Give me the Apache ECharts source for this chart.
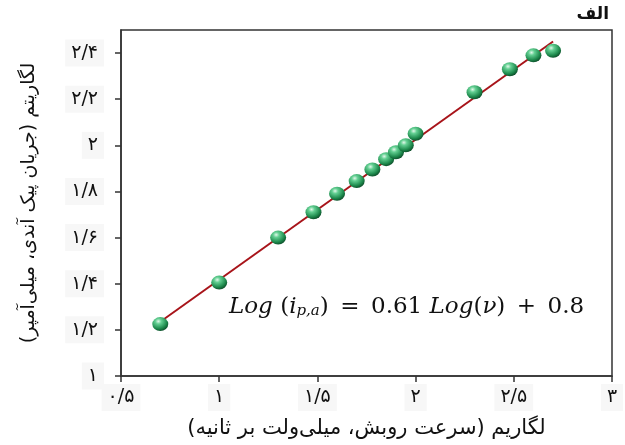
<!DOCTYPE html>
<html>
<head>
<meta charset="utf-8">
<script src="https://cdn.jsdelivr.net/npm/echarts@6/dist/echarts.min.js"></script>
<style>
html, body { margin: 0; padding: 0; background: #fff; }
#chart { width: 625px; height: 445px; }
</style>
</head>
<body>
<div id="chart"></div>
<script>
// log(scan rate) vs log(anodic peak current)
var logRate = [0.70, 1.00, 1.30, 1.48, 1.60, 1.70, 1.78, 1.85, 1.90, 1.95, 2.00, 2.30, 2.48, 2.60, 2.70];
var logCurrent = [1.225, 1.405, 1.60, 1.71, 1.79, 1.845, 1.895, 1.94, 1.97, 2.00, 2.05, 2.23, 2.33, 2.39, 2.41];

// fitted line ends
var fitX = [0.70, 2.70];
var fitY = [1.235, 2.45];

var xTicks = [0.5, 1, 1.5, 2, 2.5, 3];
var yTicks = [1, 1.2, 1.4, 1.6, 1.8, 2, 2.2, 2.4];

var faFont = 'DejaVu Sans';

// persian digits, '/' as decimal mark
function toFa(v) {
    var s = String(Math.round(v * 100) / 100).replace('.', '/');
    return s.replace(/\d/g, function (d) { return '۰۱۲۳۴۵۶۷۸۹'[+d]; });
}

var pts = [];
for (var i = 0; i < logRate.length; i++) {
    pts.push([logRate[i], logCurrent[i]]);
}
var fitPts = [[fitX[0], fitY[0]], [fitX[1], fitY[1]]];

var labelBox = {
    backgroundColor: '#f7f7f7',
    padding: [4, 6, 4, 6]
};

var myChart = echarts.init(document.getElementById('chart'));

var option = {
    backgroundColor: '#fff',
    animation: false,
    grid: {
        left: 121,
        right: 13,
        top: 30,
        bottom: 69,
        show: true,
        borderColor: '#333',
        borderWidth: 1.5,
        outerBoundsMode: 'none'
    },
    title: {
        text: 'الف',
        right: 11,
        top: 1,
        textStyle: { fontFamily: faFont, fontSize: 17, fontWeight: 'bold', color: '#111' }
    },
    xAxis: {
        type: 'value',
        min: 0.5,
        max: 3,
        interval: 0.5,
        name: 'لگاریم (سرعت روبش، میلی\u200cولت بر ثانیه)',
        nameLocation: 'middle',
        nameGap: 42,
        nameTextStyle: { fontFamily: faFont, fontSize: 21, color: '#111' },
        axisLine: { show: true, lineStyle: { color: '#333', width: 1.5 } },
        axisTick: { show: true, length: 6, lineStyle: { color: '#333', width: 1.5 }, customValues: xTicks },
        axisLabel: {
            customValues: xTicks,
            margin: 8,
            fontFamily: faFont,
            fontSize: 19,
            color: '#111',
            backgroundColor: labelBox.backgroundColor,
            padding: labelBox.padding,
            formatter: function (v) { return toFa(v); }
        },
        splitLine: { show: false }
    },
    yAxis: {
        type: 'value',
        min: 1,
        max: 2.5,
        name: 'لگاریتم (جریان پیک آندی، میلی\u200cآمپر)',
        nameLocation: 'middle',
        nameGap: 82,
        nameRotate: 90,
        nameTextStyle: { fontFamily: faFont, fontSize: 19, color: '#111' },
        axisLine: { show: true, lineStyle: { color: '#333', width: 1.5 } },
        axisTick: { show: true, length: 6, lineStyle: { color: '#333', width: 1.5 }, customValues: yTicks },
        axisLabel: {
            customValues: yTicks,
            margin: 17,
            fontFamily: faFont,
            fontSize: 19,
            color: '#111',
            backgroundColor: labelBox.backgroundColor,
            padding: labelBox.padding,
            formatter: function (v) { return toFa(v); }
        },
        splitLine: { show: false }
    },
    graphic: [
        {
            type: 'text',
            left: 229,
            top: 296,
            style: {
                text: '{it|Log }{n|(}{it|i}{sub|p,a}{n|)\u2002=\u20020.61 }{it|Log}{n|(}{it|ν}{n|)\u2002+\u20020.8}',
                rich: {
                    it: { fontFamily: 'DejaVu Serif', fontStyle: 'italic', fontSize: 23, lineHeight: 32, verticalAlign: 'bottom', fill: '#111' },
                    n: { fontFamily: 'DejaVu Serif', fontSize: 23, lineHeight: 32, verticalAlign: 'bottom', fill: '#111' },
                    sub: { fontFamily: 'DejaVu Serif', fontStyle: 'italic', fontSize: 15, lineHeight: 14, verticalAlign: 'bottom', fill: '#111' }
                }
            }
        }
    ],
    series: [
        {
            name: 'fit',
            type: 'line',
            data: fitPts,
            symbol: 'none',
            lineStyle: { color: '#a8141a', width: 2 },
            z: 2
        },
        {
            name: 'data',
            type: 'scatter',
            data: pts,
            symbol: 'circle',
            symbolSize: [16, 14],
            itemStyle: {
                color: {
                    type: 'radial',
                    x: 0.38, y: 0.3, r: 0.75,
                    colorStops: [
                        { offset: 0, color: '#e2f8ea' },
                        { offset: 0.25, color: '#63cf92' },
                        { offset: 0.7, color: '#1e8a4d' },
                        { offset: 1, color: '#0a4524' }
                    ]
                },
                opacity: 1
            },
            z: 3
        }
    ]
};

myChart.setOption(option);
window.onresize = myChart.resize;
</script>
</body>
</html>
